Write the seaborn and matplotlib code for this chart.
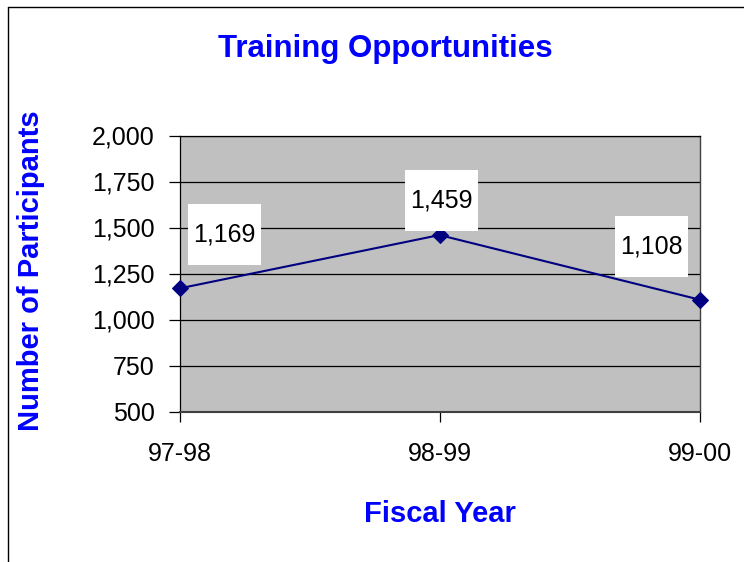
import matplotlib
matplotlib.use("Agg")
import matplotlib.pyplot as plt
import matplotlib.ticker as mticker
from matplotlib.lines import Line2D
import seaborn as sns
import pandas as pd

years        = ["97-98", "98-99", "99-00"]
participants = [1169, 1459, 1108]
y_ticks      = [500, 750, 1000, 1250, 1500, 1750, 2000]
# label offsets in pixels, as Excel placed them
label_offsets = [(45, 54), (2, 35), (-48, 53)]

df = pd.DataFrame({"Fiscal Year": years, "Participants": participants})

sns.set_style("white")
plt.rcParams["font.family"] = ["Liberation Sans", "DejaVu Sans"]

fig = plt.figure(figsize=(7.44, 5.62), dpi=100)
ax = fig.add_axes([179.5 / 744, 1 - 411.5 / 562, 520 / 744, 276 / 562])
ax.set_facecolor("#C0C0C0")

sns.lineplot(data=df, x="Fiscal Year", y="Participants", ax=ax,
             color="#000080", linewidth=1.5, marker="D", markersize=8,
             markeredgecolor="#000080", zorder=5, clip_on=False)

ax.set_xlim(0, len(years) - 1)
ax.set_ylim(y_ticks[0], y_ticks[-1])
ax.set_yticks(y_ticks)
ax.yaxis.set_major_formatter(mticker.FuncFormatter(lambda v, p: f"{int(v):,}"))
ax.grid(axis="y", color="black", linewidth=0.9)
ax.grid(axis="x", visible=False)
ax.set_axisbelow(True)

for side in ["left", "bottom", "right", "top"]:
    ax.spines[side].set_visible(True)
ax.spines["left"].set_color("black")
ax.spines["left"].set_linewidth(0.9)
ax.spines["bottom"].set_color("#404040")
ax.spines["bottom"].set_linewidth(1.5)
ax.spines["right"].set_color("#404040")
ax.spines["right"].set_linewidth(1.0)
ax.spines["top"].set_color("black")
ax.spines["top"].set_linewidth(0.9)

ax.tick_params(axis="y", direction="out", length=8, width=0.9, pad=10,
               labelsize=18, color="black", labelcolor="black", left=True)
ax.tick_params(axis="x", direction="out", length=7, width=0.9, pad=15,
               labelsize=18, color="black", labelcolor="black", bottom=True)

ax.set_ylabel("Number of Participants", fontsize=21, fontweight="bold", color="#0000FF")
ax.yaxis.set_label_coords((45 - 179.5) / 520, 0.51)
ax.set_xlabel("Fiscal Year", fontsize=21, fontweight="bold", color="#0000FF")
ax.xaxis.set_label_coords(0.501, (411.5 - 500) / 276)

fig.text(385 / 744, 1 - 49 / 562, "Training Opportunities", fontsize=22.5,
         fontweight="bold", color="#0000FF", ha="center", va="center")

# data labels in white boxes
for i, (val, off) in enumerate(zip(participants, label_offsets)):
    ax.annotate(f"{val:,}", xy=(i, val), xytext=off, textcoords="offset pixels",
                ha="center", va="center", fontsize=18, color="black", zorder=6,
                bbox=dict(boxstyle="square,pad=0.2", facecolor="white",
                          edgecolor="none", mutation_aspect=3.7))

# outer chart frame (left and top edges visible)
fig.add_artist(Line2D([8 / 744, 8 / 744], [0, 1 - 7 / 562], color="black",
                      linewidth=1.0, transform=fig.transFigure))
fig.add_artist(Line2D([8 / 744, 1], [1 - 7 / 562, 1 - 7 / 562], color="black",
                      linewidth=1.0, transform=fig.transFigure))

fig.savefig("out.png", dpi=100)
